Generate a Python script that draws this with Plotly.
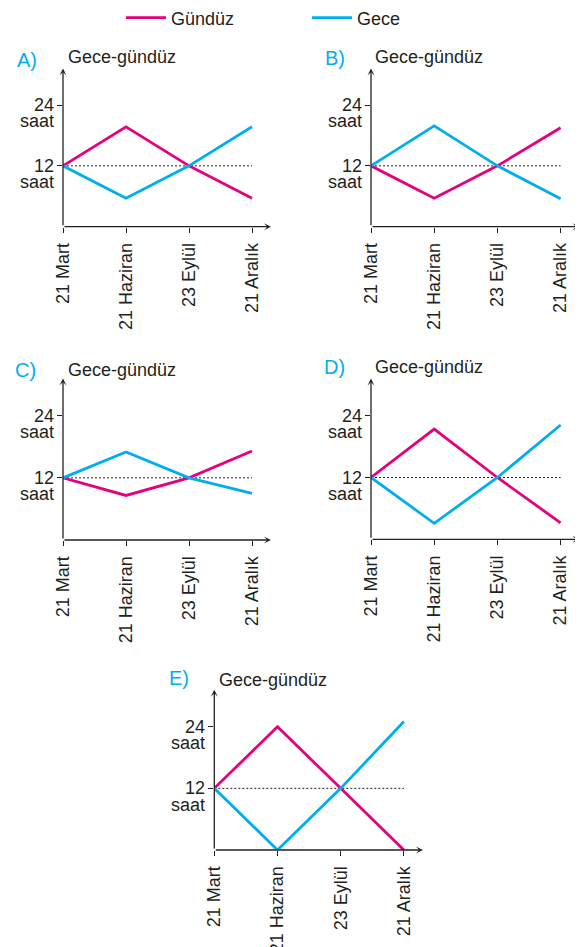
import plotly.graph_objects as go

# ---------------- data ----------------
months = ["21 Mart", "21 Haziran", "23 Eylül", "21 Aralık"]
panel_names = ["A)", "B)", "C)", "D)", "E)"]
y_title = "Gece-gündüz"
series_names = ["Gündüz", "Gece"]

gunduz_A = [12, 19.7, 12, 5.6]
gece_A = [12, 5.6, 12, 19.7]
gunduz_B = [12, 5.6, 12, 19.5]
gece_B = [12, 19.9, 12, 5.5]
gunduz_C = [12, 8.6, 12, 17.2]
gece_C = [12, 17.0, 12, 9.0]
gunduz_D = [12, 21.4, 12, 3.2]
gece_D = [12, 3.1, 12, 22.2]
gunduz_E = [12, 24, 12, 0]
gece_E = [12, 0, 12, 25]

ytick_vals = [24, 12]
ytick_nums = ["24", "12"]
ytick_unit = "saat"

# ---------------- style / geometry ----------------
OFF = 8                      # page body margin
W, H = 583 - OFF, 947 - OFF
FONT = "Liberation Sans, Arial, Helvetica, sans-serif"
TXT = "#231F20"
MAG = "#E6007E"
CYA = "#00AEEF"
XMAX = 3.3
YMAX = 31.2

# screen pixels: (axis x, axis y, 24-tick y, spacing, letter pos, title pos)
geom = [
    (63, 226.7, 105.0, 63.0, (15, 60), (66, 57)),
    (371, 226.7, 105.0, 63.2, (323, 58), (373, 57)),
    (63, 540.0, 415.7, 63.0, (13, 370), (66, 370)),
    (371, 539.3, 415.7, 63.2, (322, 367), (373, 367)),
    (214.3, 850.0, 726.7, 63.2, (167, 678), (217, 680)),
]
data = [(gunduz_A, gece_A), (gunduz_B, gece_B), (gunduz_C, gece_C),
        (gunduz_D, gece_D), (gunduz_E, gece_E)]


def px(x):
    return (x - OFF) / W


def py(y):
    return 1 - (y - OFF) / H


fig = go.Figure()
layout = dict(
    template="none",
    width=W, height=H, autosize=False,
    margin=dict(l=0, r=0, t=0, b=0, pad=0, autoexpand=False),
    paper_bgcolor="white", plot_bgcolor="rgba(0,0,0,0)",
    font=dict(family=FONT, size=18, color=TXT),
    showlegend=True,
    legend=dict(orientation="h", x=px(121), y=1 + 8.5 / H, xanchor="left", yanchor="top",
                font=dict(size=18, color=TXT), entrywidth=131, entrywidthmode="pixels",
                itemwidth=40, bgcolor="rgba(0,0,0,0)", traceorder="normal"),
)
annotations = []
shapes = []

for i, ((x0, y0, y24, sp, lpos, tpos), (gd, gc)) in enumerate(zip(geom, data)):
    n = i + 1
    xa = "x" if n == 1 else f"x{n}"
    ya = "y" if n == 1 else f"y{n}"
    p = (y0 - y24) / 24.0
    ytop = y0 - YMAX * p
    xdom = [px(x0), px(x0 + XMAX * sp)]
    ydom = [py(y0), py(ytop)]
    xkey = "xaxis" if n == 1 else f"xaxis{n}"
    ykey = "yaxis" if n == 1 else f"yaxis{n}"
    layout[xkey] = dict(domain=xdom, range=[0, XMAX], anchor=ya, showgrid=False,
                        zeroline=False, showline=False, ticks="outside", ticklen=5,
                        tickwidth=1.2, tickcolor=TXT, tickvals=list(range(len(months))),
                        ticktext=months, tickangle=-90, automargin=False,
                        ticklabelstandoff=3,
                        tickfont=dict(family=FONT, size=18, color=TXT))
    layout[ykey] = dict(domain=ydom, range=[0, YMAX], anchor=xa, showgrid=False,
                        zeroline=False, showline=False, ticks="outside", ticklen=5,
                        tickwidth=1.2, tickcolor=TXT, tickvals=ytick_vals,
                        showticklabels=False, automargin=False)
    xs = list(range(len(months)))
    fig.add_trace(go.Scatter(x=xs, y=gd, mode="lines", name=series_names[0],
                             line=dict(color=MAG, width=2.8), xaxis=xa, yaxis=ya,
                             cliponaxis=False, showlegend=(n == 1), legendgroup="g"))
    fig.add_trace(go.Scatter(x=xs, y=gc, mode="lines", name=series_names[1],
                             line=dict(color=CYA, width=2.8), xaxis=xa, yaxis=ya,
                             cliponaxis=False, showlegend=(n == 1), legendgroup="c"))
    # dotted 12-hour reference line
    shapes.append(dict(type="line", xref=xa, yref=ya, x0=0, x1=3, y0=12, y1=12,
                       line=dict(color=TXT, width=1, dash="2px,2px"), layer="below"))
    # axes with arrowheads
    for (tx, ty) in [(XMAX, 0), (0, YMAX)]:
        annotations.append(dict(x=tx, y=ty, ax=0, ay=0, xref=xa, yref=ya, axref=xa,
                                ayref=ya, text="", showarrow=True, arrowhead=3,
                                arrowsize=0.9, arrowwidth=1.3, arrowcolor=TXT,
                                standoff=0, startstandoff=0))
    # y labels
    for v, t in zip(ytick_vals, ytick_nums):
        annotations.append(dict(x=0, y=v, xref=xa, yref=ya, text=t, showarrow=False,
                                xanchor="right", yanchor="middle", xshift=-7,
                                font=dict(size=18, color=TXT)))
        annotations.append(dict(x=0, y=v, xref=xa, yref=ya, text=ytick_unit,
                                showarrow=False, xanchor="right", yanchor="middle",
                                xshift=-7, yshift=-16.5, font=dict(size=18, color=TXT)))
    # panel letter and axis title
    annotations.append(dict(x=px(lpos[0]), y=py(lpos[1]), xref="paper", yref="paper",
                            text=panel_names[i], showarrow=False, xanchor="left",
                            yanchor="middle", font=dict(size=20, color=CYA)))
    annotations.append(dict(x=px(tpos[0]), y=py(tpos[1]), xref="paper", yref="paper",
                            text=y_title, showarrow=False, xanchor="left",
                            yanchor="middle", font=dict(size=18, color=TXT)))

layout["annotations"] = annotations
layout["shapes"] = shapes
fig.update_layout(**layout)
fig.write_html("out.html")
